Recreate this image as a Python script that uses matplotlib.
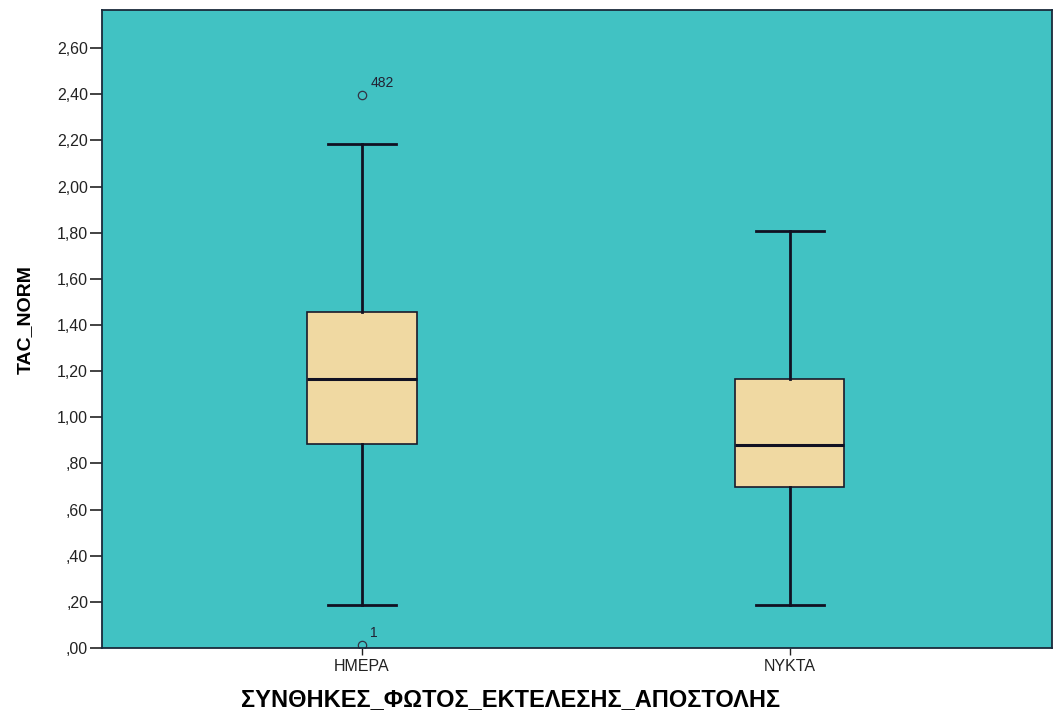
import matplotlib
matplotlib.use("Agg")
import matplotlib.pyplot as plt
from matplotlib.ticker import FuncFormatter

categories = ["ΗΜΕΡΑ", "ΝΥΚΤΑ"]
whisker_low = [0.186, 0.186]
q1 = [0.884, 0.698]
median = [1.166, 0.880]
q3 = [1.456, 1.166]
whisker_high = [2.184, 1.807]
outliers = [[2.396, 0.012], []]
outlier_ids = [["482", "1"], []]

plt.rcParams['font.family'] = ['Liberation Sans', 'DejaVu Sans']

fig = plt.figure(figsize=(10.56, 7.13), dpi=100)
ax = fig.add_axes([0.0966, 0.091, 0.8994, 0.895])
ax.set_facecolor('#41c2c3')

stats = []
for i, c in enumerate(categories):
    stats.append(dict(label=c, whislo=whisker_low[i], q1=q1[i], med=median[i],
                      q3=q3[i], whishi=whisker_high[i], fliers=outliers[i]))

positions = [1, 2]
ax.bxp(stats, positions=positions, widths=0.255, capwidths=0.16, patch_artist=True,
       boxprops=dict(facecolor='#f0d9a2', edgecolor='#1a1a2a', linewidth=1.2),
       medianprops=dict(color='#111122', linewidth=2.2),
       whiskerprops=dict(color='#111122', linewidth=2.0),
       capprops=dict(color='#111122', linewidth=2.0),
       flierprops=dict(marker='o', markerfacecolor='none', markeredgecolor='#333344',
                       markersize=6, markeredgewidth=0.9))

for i, (vals, ids) in enumerate(zip(outliers, outlier_ids)):
    for v, t in zip(vals, ids):
        ax.annotate(t, (positions[i], v), xytext=(6, 6), textcoords='offset points',
                    fontsize=10, color='#222233')

ax.set_xlim(0.3925, 2.612)
ax.set_ylim(0, 2.765)
ax.set_yticks([0.2 * k for k in range(14)])
def fmt(v, pos):
    s = f"{v:.2f}".replace('.', ',')
    if s.startswith('0'):
        s = s[1:]
    return s
ax.yaxis.set_major_formatter(FuncFormatter(fmt))
ax.tick_params(axis='y', direction='out', length=9, width=1.2, labelsize=11.5, colors='#222222', pad=1)
ax.tick_params(axis='x', direction='out', length=5, width=1.0, labelsize=11.5, colors='#222222', pad=3)
for s in ax.spines.values():
    s.set_color('#1a2a3a')
    s.set_linewidth(1.3)

ax.set_ylabel('TAC_NORM', fontsize=14, fontweight='bold')
ax.yaxis.set_label_coords(-0.072, 0.515)
ax.set_xlabel('ΣΥΝΘΗΚΕΣ_ΦΩΤΟΣ_ΕΚΤΕΛΕΣΗΣ_ΑΠΟΣΤΟΛΗΣ', fontsize=17, fontweight='bold')
ax.xaxis.set_label_coords(0.43, -0.062)
ax.xaxis.label.set_va('top')

fig.savefig('out.png', dpi=100)
